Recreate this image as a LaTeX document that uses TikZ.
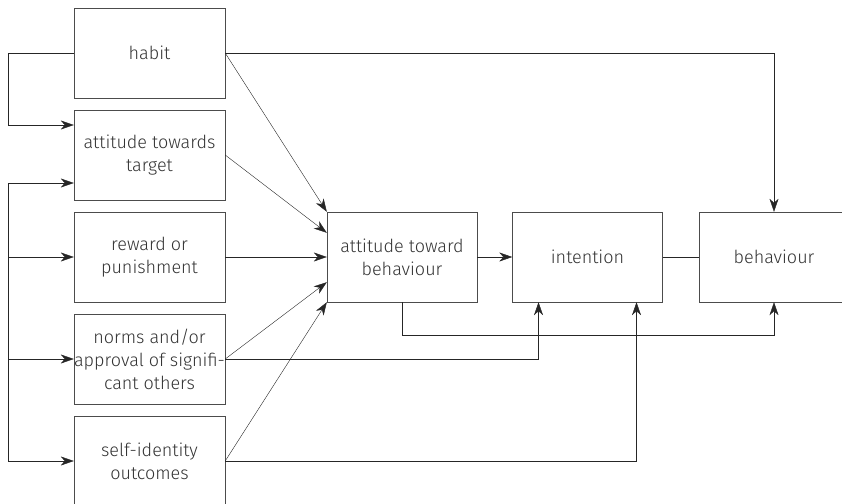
\documentclass[tikz,border=0pt]{standalone}
\usepackage{fontspec}
\setmainfont{Fira Sans}[UprightFont=* Light]
\usetikzlibrary{arrows.meta}

\begin{document}
\begin{tikzpicture}[x=1pt,y=-1pt,
    box/.style={draw=black!70,thin,minimum width=151pt,minimum height=90pt,align=center,
      text=black!80,font=\fontsize{18}{23}\selectfont},
    arr/.style={-{Stealth[length=13pt,width=9pt,inset=4pt]},black!85,thin}]

      \useasboundingbox (0,0) rectangle (842,503);
      \clip (0,0) rectangle (842,503);

      % left column
      \node[box] (habit)  at (149.5,53)  {habit};
      \node[box] (target) at (149.5,155) {attitude towards\\target};
      \node[box] (reward) at (149.5,257) {reward or\\punishment};
      \node[box,inner sep=0pt] (norms)  at (149.5,359) {norms and/or\\approval of signifi-\\cant others};
      \node[box] (selfid) at (149.5,461) {self-identity\\outcomes};

      % main row
      \node[box,minimum width=150pt] (attbeh) at (402,257)   {attitude toward\\behaviour};
      \node[box,minimum width=150pt] (intent) at (587.5,257) {intention};
      \node[box,minimum width=150pt] (behav)  at (774,257)   {behaviour};

      % bus on the left
      \coordinate (bustop) at (8,183);
      \coordinate (busbot) at (8,461);
      \draw[black!85,thin] (bustop) -- (busbot);
      \draw[arr] (bustop) -- (bustop -| target.west);
      \draw[arr] (reward.west -| bustop) -- (reward.west);
      \draw[arr] (norms.west -| bustop) -- (norms.west);
      \draw[arr] (busbot) -- (selfid.west);
      \draw[arr] (habit.west) -- ++(-66,0) |- ([yshift=30pt]target.west);

      % into attitude toward behaviour
      \draw[arr] (habit.east) -- (attbeh.north west);
      \draw[arr] (target.east) -- ([yshift=-21pt]attbeh.north west);
      \draw[arr] (reward.east) -- (attbeh.west);
      \draw[arr] (norms.east) -- ([yshift=20pt]attbeh.south west);
      \draw[arr] (selfid.east) -- (attbeh.south west);

      % long links
      \draw[arr] (habit.east) -| (behav.north);
      \draw[arr] (norms.east) -| ([xshift=-49pt]intent.south);
      \draw[arr] (selfid.east) -| ([xshift=49pt]intent.south);
      \draw[arr] (attbeh.south) -- ++(0,33) -| (behav.south);
      \draw[arr] (attbeh.east) -- (intent.west);
      \draw[black!85,thin] (intent.east) -- (behav.west);

    \end{tikzpicture}
\end{document}
